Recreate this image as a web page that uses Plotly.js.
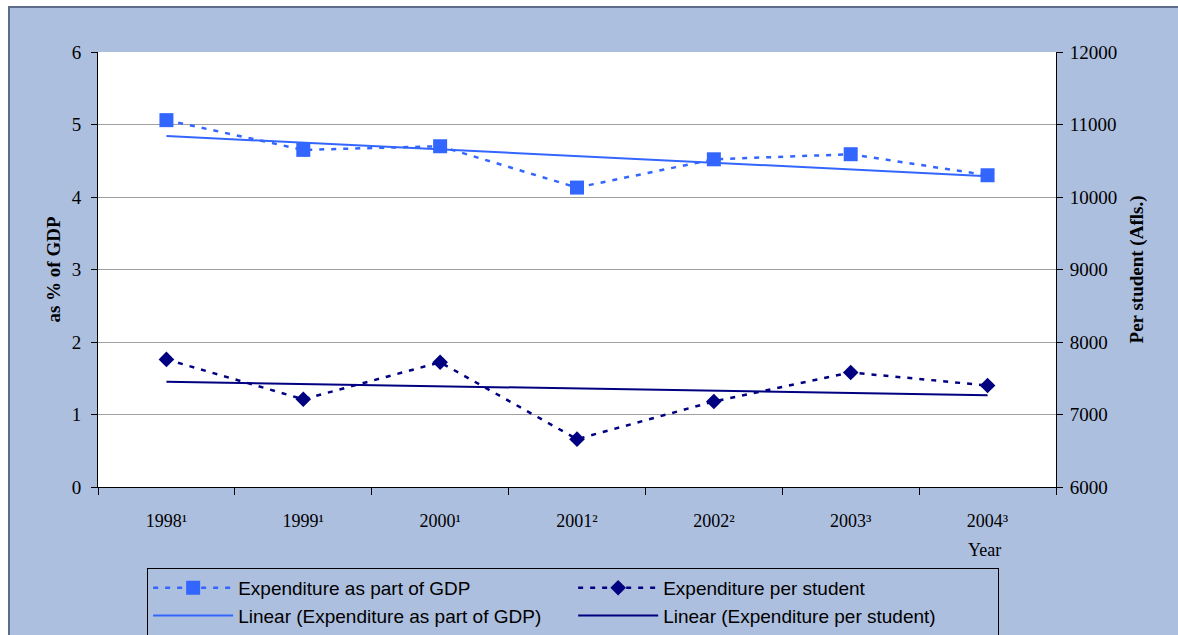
<!DOCTYPE html>
<html>
<head>
<meta charset="utf-8">
<script src="https://cdn.plot.ly/plotly-3.0.1.min.js"></script>
<style>
  html, body { margin: 0; padding: 0; background: #ffffff; width: 1178px; height: 635px; overflow: hidden; }
  #frame { position: absolute; left: 8px; top: 6px; width: 1170px; height: 629px; border-left: 2px solid #5d6c8a; border-top: 2px solid #5d6c8a; box-sizing: border-box; background: #adbfdf; overflow: hidden; }
  #chart { position: absolute; left: 0; top: 0; width: 1168px; height: 690px; }
</style>
</head>
<body>
<div id="frame"><div id="chart"></div></div>
<script>
// ---- data ----
var years = ['1998\u00b9', '1999\u00b9', '2000\u00b9', '2001\u00b2', '2002\u00b2', '2003\u00b3', '2004\u00b3'];
var gdpShare = [5.06, 4.65, 4.70, 4.13, 4.52, 4.59, 4.30];            // % of GDP
var perStudent = [7760, 7210, 7720, 6660, 7180, 7580, 7400];           // Afls. per student
var seriesNames = ['Expenditure as part of GDP', 'Expenditure per student'];

// least-squares linear trend (as Excel's "Linear" trendline)
function linearTrend(vals) {
  var n = vals.length, sx = 0, sy = 0, sxx = 0, sxy = 0;
  for (var i = 0; i < n; i++) { sx += i; sy += vals[i]; sxx += i * i; sxy += i * vals[i]; }
  var b = (n * sxy - sx * sy) / (n * sxx - sx * sx);
  var a = (sy - b * sx) / n;
  return vals.map(function (_, i) { return a + b * i; });
}

var cBlue = '#3366ff';
var cNavy = '#000080';
var serif = 'Liberation Serif, Times New Roman, serif';
var sans = 'Liberation Sans, Arial, sans-serif';

var traces = [
  { x: years, y: gdpShare, name: seriesNames[0], type: 'scatter', mode: 'lines+markers', yaxis: 'y',
    line: { color: cBlue, width: 2.5, dash: '5px,7px' },
    marker: { symbol: 'square', size: 14, color: cBlue } },
  { x: years, y: perStudent, name: seriesNames[1], type: 'scatter', mode: 'lines+markers', yaxis: 'y2',
    line: { color: cNavy, width: 2.5, dash: '5px,7px' },
    marker: { symbol: 'diamond', size: 12, color: cNavy } },
  { x: years, y: linearTrend(gdpShare), name: 'Linear (' + seriesNames[0] + ')', type: 'scatter', mode: 'lines', yaxis: 'y',
    line: { color: cBlue, width: 2 } },
  { x: years, y: linearTrend(perStudent), name: 'Linear (' + seriesNames[1] + ')', type: 'scatter', mode: 'lines', yaxis: 'y2',
    line: { color: cNavy, width: 2 } }
];

var layout = {
  width: 1168, height: 690,
  paper_bgcolor: 'rgba(0,0,0,0)',
  plot_bgcolor: '#ffffff',
  margin: { l: 88, r: 122, t: 44, b: 211, pad: 0 },
  showlegend: true,
  xaxis: {
    type: 'category', categoryorder: 'array', categoryarray: years,
    range: [-0.5, 6.5], tickson: 'boundaries',
    ticks: 'outside', ticklen: 7, tickcolor: '#000', tickwidth: 1,
    showline: true, linecolor: '#000', linewidth: 1,
    showgrid: false, zeroline: false,
    tickfont: { family: serif, size: 18, color: '#000' },
    ticklabelstandoff: 17, fixedrange: true
  },
  yaxis: {
    range: [0, 6], dtick: 1, tick0: 0,
    ticks: 'outside', ticklen: 6, tickcolor: '#000',
    showline: true, linecolor: '#000', linewidth: 1,
    showgrid: true, gridcolor: '#a0a0a0', gridwidth: 1, zeroline: false,
    tickfont: { family: serif, size: 19, color: '#000' },
    ticklabelstandoff: 6,
    title: { text: '<b>as % of GDP</b>', font: { family: serif, size: 19, color: '#000' }, standoff: 6 },
    fixedrange: true
  },
  yaxis2: {
    overlaying: 'y', side: 'right',
    range: [6000, 12000], dtick: 1000, tick0: 6000, tickformat: 'd',
    ticks: 'outside', ticklen: 6, tickcolor: '#000',
    showline: true, linecolor: '#000', linewidth: 1,
    showgrid: false, zeroline: false,
    tickfont: { family: serif, size: 19, color: '#000' },
    ticklabelstandoff: 3,
    title: { text: '<b>Per student (Afls.)</b>', font: { family: serif, size: 19, color: '#000' }, standoff: 13 },
    fixedrange: true
  },
  legend: {
    orientation: 'h', x: 0.0513, xanchor: 'left', y: -0.186, yanchor: 'top',
    bgcolor: '#adbfdf', bordercolor: '#000', borderwidth: 1,
    font: { family: sans, size: 19, color: '#000' },
    entrywidth: 330, entrywidthmode: 'pixels', itemwidth: 80,
    traceorder: 'normal', tracegroupgap: 0
  },
  annotations: [
    { text: 'Year', xref: 'paper', yref: 'paper', x: 0.925, y: -0.145, xanchor: 'center', yanchor: 'middle',
      showarrow: false, font: { family: serif, size: 18, color: '#000' } }
  ]
};

Plotly.newPlot('chart', traces, layout, { displayModeBar: false, staticPlot: true });
</script>
</body>
</html>
